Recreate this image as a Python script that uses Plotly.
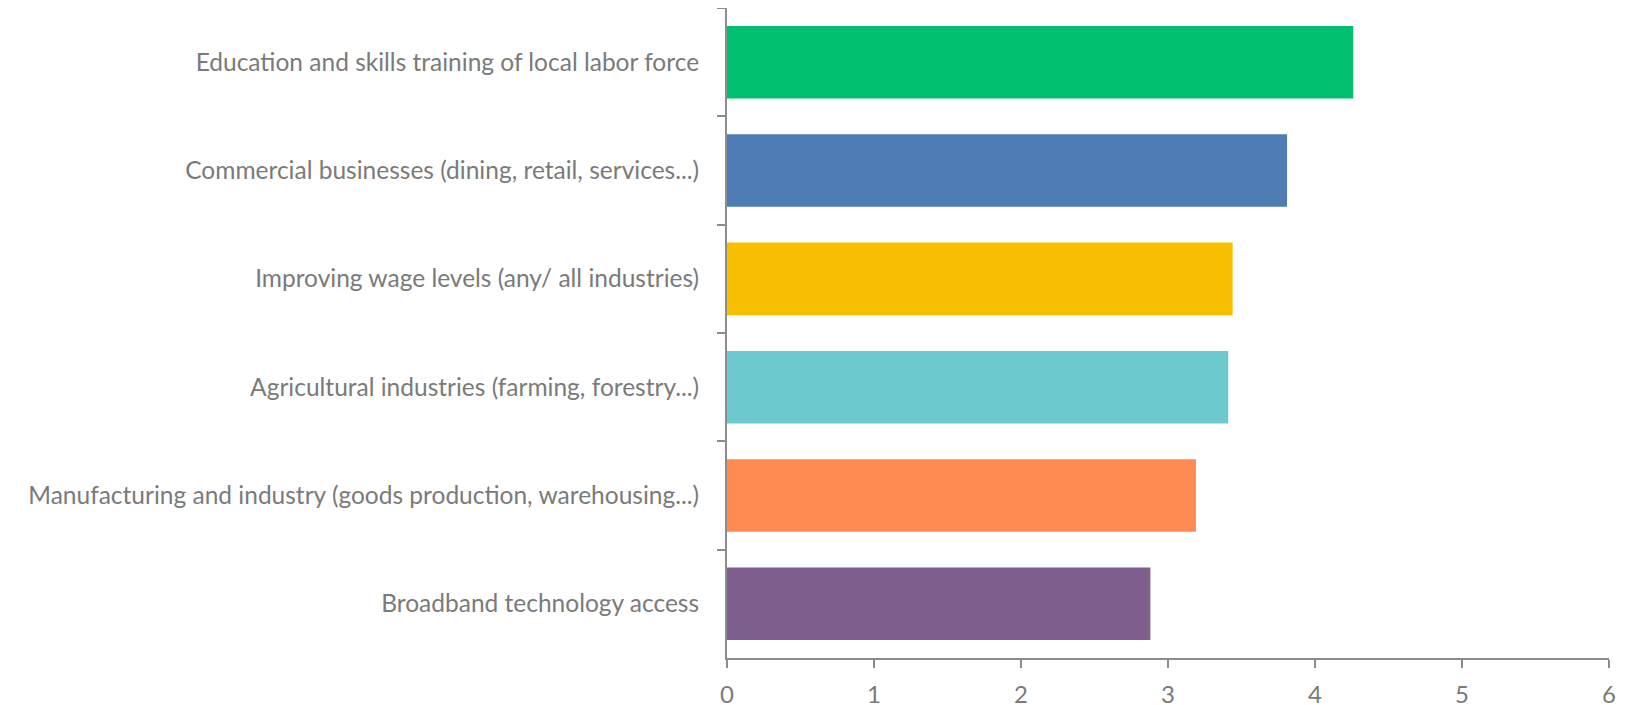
import plotly.graph_objects as go

categories = [
    "Education and skills training of local labor force",
    "Commercial businesses (dining, retail, services...)",
    "Improving wage levels (any/ all industries)",
    "Agricultural industries (farming, forestry...)",
    "Manufacturing and industry (goods production, warehousing...)",
    "Broadband technology access",
]
values = [4.26, 3.81, 3.44, 3.41, 3.19, 2.88]
colors = ["#00BF6F", "#4E7CB5", "#F8BE00", "#6CC9CD", "#FF8B52", "#7D5E8D"]
x_ticks = [0, 1, 2, 3, 4, 5, 6]

fig = go.Figure(go.Bar(
    x=values, y=categories, orientation="h",
    marker=dict(color=colors, line=dict(width=0)),
    width=0.67,
))

axis_color = "#8C8C8C"
font_color = "#7A7A7A"
fig.update_layout(
    width=1625, height=705,
    margin=dict(l=719, r=24, t=0, b=55),
    paper_bgcolor="white", plot_bgcolor="white",
    showlegend=False,
    font=dict(family="Lato", color=font_color, size=24.5),
    xaxis=dict(
        range=[0, 6], tickvals=x_ticks, showgrid=False, zeroline=False,
        showline=True, linecolor=axis_color, linewidth=2,
        ticks="outside", ticklen=8, tickcolor=axis_color, tickwidth=1.5,
        ticklabelstandoff=6,
        tickfont=dict(size=24, color=font_color, family="Lato"),
    ),
    yaxis=dict(
        autorange=False, range=[5.5, -0.5], showgrid=False, zeroline=False,
        showline=True, linecolor=axis_color, linewidth=2,
        ticks="outside", ticklen=8, tickcolor=axis_color, tickwidth=1.5,
        tickson="boundaries", ticklabelstandoff=21,
        tickfont=dict(size=24.5, color=font_color, family="Lato"),
    ),
)

fig.write_html("out.html")
